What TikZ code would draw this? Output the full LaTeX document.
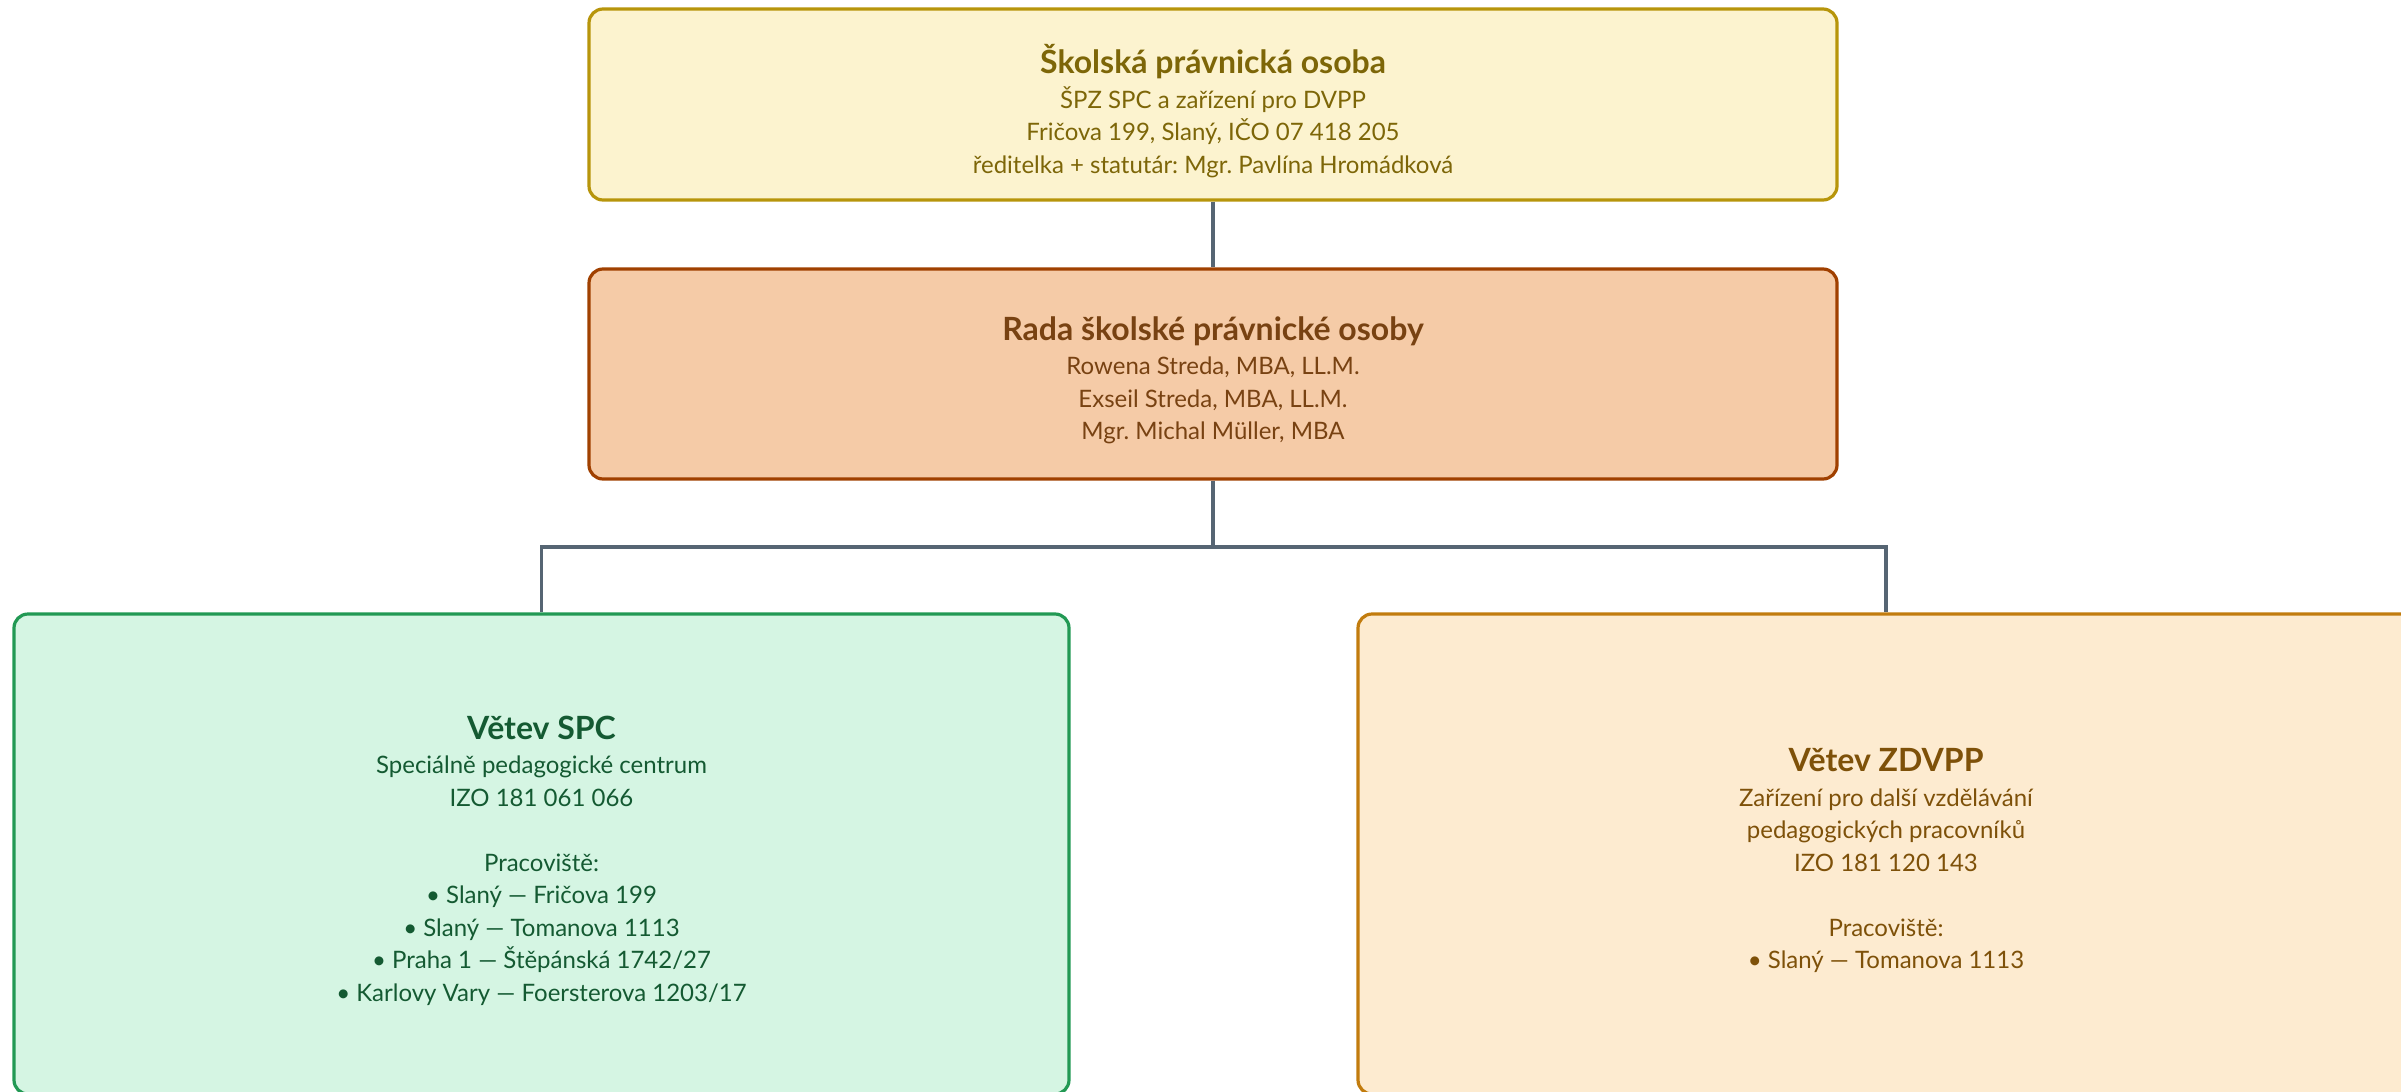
\documentclass[tikz,border=0pt]{standalone}
\usepackage{fontspec}
\setmainfont{Lato}
\usepackage{xcolor}
\usepackage{tikz}
\frenchspacing

\definecolor{spofill}{HTML}{FCF3CF}
\definecolor{spoline}{HTML}{B7950B}
\definecolor{spotext}{HTML}{7D6608}
\definecolor{radafill}{HTML}{F5CBA7}
\definecolor{radaline}{HTML}{A04000}
\definecolor{radatext}{HTML}{784212}
\definecolor{spcfill}{HTML}{D5F5E3}
\definecolor{spcline}{HTML}{229954}
\definecolor{spctext}{HTML}{145A32}
\definecolor{zdvfill}{HTML}{FDEBD0}
\definecolor{zdvline}{HTML}{C27C0E}
\definecolor{zdvtext}{HTML}{7E5109}
\definecolor{connline}{HTML}{566573}

\tikzset{
  box/.style={draw, rounded corners=14pt, line width=3.2pt, inner sep=0pt},
  spobox/.style={box, fill=spofill, draw=spoline,
    minimum width=1248pt, minimum height=191pt},
  radabox/.style={box, fill=radafill, draw=radaline,
    minimum width=1248pt, minimum height=210pt},
  spcbox/.style={box, fill=spcfill, draw=spcline,
    minimum width=1055pt, minimum height=480pt},
  zdvbox/.style={box, fill=zdvfill, draw=zdvline,
    minimum width=1056pt, minimum height=480pt},
  popis/.style={align=center, inner sep=0pt, yshift=-6.5pt,
    font=\fontsize{24}{32.5}\selectfont},
  conn/.style={draw=connline, line width=3.5pt},
}
\newcommand{\nadpis}[1]{{\fontsize{32}{36}\selectfont\bfseries #1}}

\begin{document}
\begin{tikzpicture}[x=1pt,y=-1pt]
\useasboundingbox (0,0) rectangle (2401,1092);
\clip (0,0) rectangle (2401,1092);
% Skolska pravnicka osoba
\node (spo) at (1213,104.5) [spobox] {};
\node (spotxt) at (spo) [popis, text=spotext] {\nadpis{Školská právnická osoba}\\[2pt]
  ŠPZ SPC a zařízení pro DVPP\\
  Fričova 199, Slaný, IČO 07 418 205\\
  ředitelka + statutár: Mgr. Pavlína Hromádková};
% Rada
\node (rada) at (1213,374) [radabox] {};
\node (radatxt) at (rada) [popis, text=radatext] {\nadpis{Rada školské právnické osoby}\\[2pt]
  Rowena Streda, MBA, LL.M.\\
  Exseil Streda, MBA, LL.M.\\
  Mgr. Michal Müller, MBA};
\draw [conn] (spo.south) -- (rada.north);
% Vetve
\node (spc) at (541.5,854) [spcbox] {};
\node (spctxt) at (spc) [popis, text=spctext] {\nadpis{Větev SPC}\\[2pt]
  Speciálně pedagogické centrum\\
  IZO 181 061 066\\[32.5pt]
  Pracoviště:\\
  • Slaný — Fričova 199\\
  • Slaný — Tomanova 1113\\
  • Praha 1 — Štěpánská 1742/27\\
  • Karlovy Vary — Foersterova 1203/17};
\node (zdv) at (1886,854) [zdvbox] {};
\node (zdvtxt) at (zdv) [popis, text=zdvtext] {\nadpis{Větev ZDVPP}\\[2pt]
  Zařízení pro další vzdělávání\\
  pedagogických pracovníků\\
  IZO 181 120 143\\[32.5pt]
  Pracoviště:\\
  • Slaný — Tomanova 1113};
\coordinate (uzel) at (1213,547);
\draw [conn] (rada.south) -- (uzel);
\draw [conn] (uzel) -| (spc.north);
\draw [conn] (uzel) -| (zdv.north);
\end{tikzpicture}
\end{document}
